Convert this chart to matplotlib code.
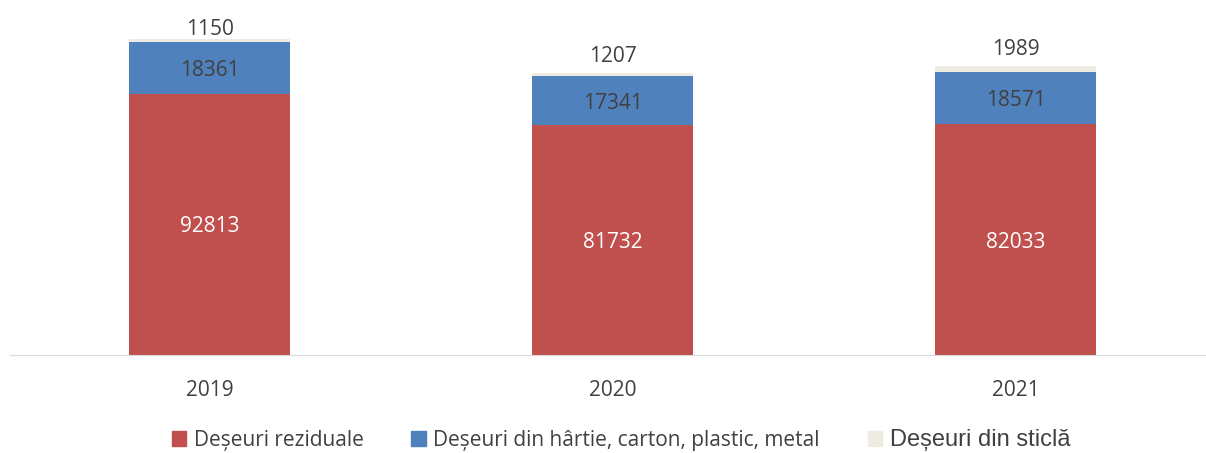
import matplotlib.pyplot as plt
from matplotlib.patches import Patch

years = ['2019', '2020', '2021']
reziduale = [92813, 81732, 82033]
hartie = [18361, 17341, 18571]
sticla = [1150, 1207, 1989]
series_names = ['Deșeuri reziduale', 'Deșeuri din hârtie, carton, plastic, metal', 'Deșeuri din sticlă']

c_red = '#C0504D'
c_blue = '#4F81BD'
c_glass = '#EEECE1'
txt = '#404040'

plt.rcParams['font.family'] = ['Open Sans', 'DejaVu Sans']

fig = plt.figure(figsize=(12.06, 4.53), dpi=100)
ax = fig.add_axes([10 / 1206, 98 / 453, 1209 / 1206, 337.8 / 453])

x = list(range(len(years)))
w = 0.4
ax.bar(x, reziduale, w, color=c_red)
ax.bar(x, hartie, w, bottom=reziduale, color=c_blue)
bottom3 = [a + b for a, b in zip(reziduale, hartie)]
ax.bar(x, sticla, w, bottom=bottom3, color=c_glass)

for i in x:
    ax.text(i, reziduale[i] / 2, str(reziduale[i]), ha='center', va='center_baseline',
            color='white', fontsize=15)
    ax.text(i, reziduale[i] + hartie[i] / 2, str(hartie[i]), ha='center',
            va='center_baseline', color=txt, fontsize=15)
    # label above the stack, kept inside the plot area like excel does
    ytop = min(bottom3[i] + sticla[i] + 6800, 116400)
    ax.text(i, ytop, str(sticla[i]), ha='center', va='center_baseline', color=txt, fontsize=15)

ax.set_xlim(-0.496, 2.504)
ax.set_ylim(0, 120000)
ax.set_xticks(x)
ax.set_xticklabels(years, color=txt, fontsize=15)
ax.tick_params(axis='x', length=0, pad=18)
ax.set_yticks([])
for s in ['top', 'right', 'left']:
    ax.spines[s].set_visible(False)
ax.spines['bottom'].set_color('#D9D9D9')

handles = [Patch(color=c_red), Patch(color=c_blue), Patch(color=c_glass)]
leg = fig.legend(handles, series_names, loc='center', bbox_to_anchor=(621 / 1206, 13 / 453),
                 ncol=3, frameon=False, fontsize=15, handlelength=0.7, handleheight=0.7,
                 handletextpad=0.35, columnspacing=2.3)
for t in leg.get_texts():
    t.set_color(txt)
leg.get_texts()[2].set_fontfamily('Liberation Sans')
leg.get_texts()[2].set_fontsize(17)

fig.savefig('out.png', dpi=100)
